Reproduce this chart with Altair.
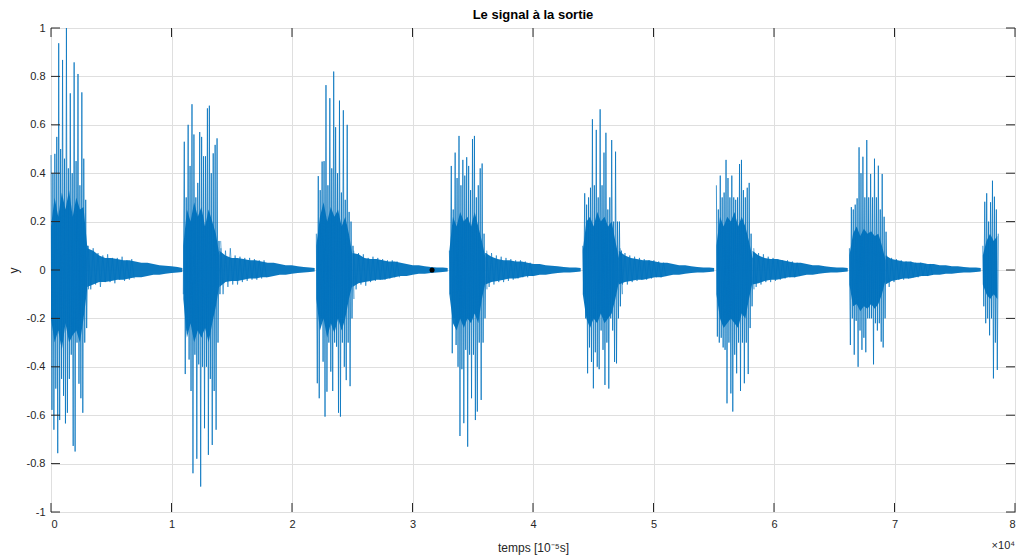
import altair as alt
import pandas as pd

# ---------------- data ----------------
# burst onsets (samples, unit 1e-5 s) and decimation step of the stored values
onsets = [0, 10981, 22020, 33059, 44131, 55220, 66259, 77331]
step = 80

b1 = [0.475, -0.578, 0.40, -0.66, 0.48, -0.49, 0.55, -0.757, 0.937, -0.62, 0.50, -0.45,
      0.868, -0.52, 0.46, -0.634, 1.0, -0.59, 0.42, -0.45, 0.73, -0.35, 0.40, -0.727,
      0.858, -0.75, 0.45, -0.30, 0.81, -0.47, 0.35, -0.53, 0.734, -0.59, 0.46, -0.30,
      0.29, -0.24, 0.10, -0.08]
b2 = [-0.10, 0.53, -0.43, 0.30, -0.25, 0.60, -0.37, 0.43, -0.50, 0.685, -0.84, 0.56,
      -0.35, 0.30, -0.78, 0.36, -0.39, 0.57, -0.895, 0.55, -0.40, 0.47, -0.654, 0.47,
      -0.40, 0.668, -0.764, 0.679, -0.45, 0.40, -0.723, 0.482, -0.50, 0.517, -0.66,
      0.544, -0.30, 0.12, -0.10, 0.09]
b3 = [0.15, -0.468, 0.388, -0.53, 0.33, -0.2, 0.448, -0.379, 0.45, -0.606, 0.764, -0.503,
      0.35, -0.3, 0.71, -0.42, 0.42, -0.50, 0.82, -0.3, 0.59, -0.317, 0.40, -0.59, 0.70,
      -0.606, 0.32, -0.3, 0.66, -0.40, 0.29, -0.455, 0.60, -0.3, 0.24, -0.48, 0.2, -0.2,
      0.1, -0.12]
b4 = [0.08, -0.10, 0.43, -0.344, 0.25, -0.20, 0.485, -0.31, 0.38, -0.40, 0.554, -0.686,
      0.35, -0.41, 0.455, -0.633, 0.39, -0.33, 0.466, -0.73, 0.43, -0.35, 0.33, -0.53,
      0.541, -0.35, 0.554, -0.62, 0.30, -0.585, 0.35, -0.30, 0.42, -0.537, 0.44, -0.30,
      0.15, -0.20, 0.07, -0.08]
b5 = [0.10, -0.10, 0.317, -0.20, 0.27, -0.427, 0.30, -0.32, 0.34, -0.38, 0.623, -0.489,
      0.35, -0.34, 0.579, -0.40, 0.30, -0.41, 0.664, -0.25, 0.35, -0.33, 0.485, -0.475,
      0.567, -0.30, 0.25, -0.49, 0.30, -0.20, 0.537, -0.25, 0.20, -0.38, 0.489, -0.386,
      0.20, -0.20, 0.20, -0.15, 0.08, -0.10]
b6 = [0.35, -0.275, 0.25, -0.30, 0.39, -0.28, 0.30, -0.32, 0.32, -0.33, 0.455, -0.551,
      0.38, -0.30, 0.30, -0.51, 0.39, -0.585, 0.30, -0.35, 0.29, -0.427, 0.30, -0.30,
      0.438, -0.50, 0.455, -0.30, 0.33, -0.468, 0.30, -0.30, 0.34, -0.43, 0.36, -0.24,
      0.15, -0.15, 0.05, -0.08]
b7 = [0.09, -0.31, 0.26, -0.20, 0.25, -0.35, 0.27, -0.21, 0.296, -0.40, 0.507, -0.25,
      0.40, -0.33, 0.468, -0.28, 0.30, -0.34, 0.537, -0.20, 0.30, -0.20, 0.397, -0.20,
      0.30, -0.39, 0.46, -0.22, 0.30, -0.25, 0.431, -0.22, 0.25, -0.296, 0.397, -0.32,
      0.22, -0.20, 0.158, -0.05]
b8 = [0.10, -0.15, 0.282, -0.22, 0.317, -0.20, 0.20, -0.27, 0.28, -0.20, 0.369, -0.448,
      0.303, -0.30, 0.25, -0.413, 0.15]
bursts = [b1, b2, b3, b4, b5, b6, b7, b8]

# dense core of each burst: offsets from onset, upper / lower envelope
core_off = [[0, 300, 600, 900, 1200, 1500, 1800, 2100, 2400, 2700, 3000]] * 7 + \
           [[0, 300, 600, 900, 1200]]
core_hi = [[0.18, 0.30, 0.22, 0.32, 0.25, 0.33, 0.22, 0.30, 0.25, 0.26, 0.10],
           [0.10, 0.25, 0.20, 0.28, 0.22, 0.26, 0.18, 0.25, 0.20, 0.15, 0.06],
           [0.10, 0.22, 0.28, 0.20, 0.26, 0.22, 0.25, 0.18, 0.22, 0.15, 0.06],
           [0.08, 0.22, 0.18, 0.24, 0.20, 0.22, 0.18, 0.24, 0.18, 0.12, 0.05],
           [0.08, 0.20, 0.22, 0.18, 0.24, 0.20, 0.22, 0.18, 0.20, 0.12, 0.05],
           [0.10, 0.22, 0.18, 0.22, 0.20, 0.24, 0.18, 0.22, 0.18, 0.12, 0.05],
           [0.06, 0.15, 0.18, 0.14, 0.17, 0.15, 0.16, 0.14, 0.15, 0.10, 0.04],
           [0.06, 0.12, 0.15, 0.12, 0.14]]
core_lo = [[-0.20, -0.30, -0.25, -0.33, -0.22, -0.30, -0.27, -0.25, -0.30, -0.20, -0.08],
           [-0.12, -0.28, -0.22, -0.30, -0.25, -0.28, -0.24, -0.30, -0.22, -0.15, -0.06],
           [-0.12, -0.25, -0.20, -0.28, -0.22, -0.26, -0.20, -0.25, -0.20, -0.12, -0.06],
           [-0.10, -0.22, -0.25, -0.20, -0.24, -0.20, -0.22, -0.18, -0.22, -0.12, -0.05],
           [-0.10, -0.20, -0.24, -0.20, -0.22, -0.18, -0.22, -0.20, -0.18, -0.12, -0.05],
           [-0.10, -0.20, -0.24, -0.22, -0.20, -0.22, -0.24, -0.18, -0.20, -0.12, -0.05],
           [-0.06, -0.15, -0.14, -0.17, -0.15, -0.16, -0.14, -0.16, -0.14, -0.10, -0.04],
           [-0.06, -0.10, -0.12, -0.10, -0.12]]

# decaying noise band after each burst: offsets from onset, upper / lower envelope
tail_off = [3000, 3500, 4000, 4500, 5000, 5500, 6000, 6500, 7000, 7500, 8000, 8500,
            9000, 9500, 10000, 10500, 10900]
tail_hi = [[0.09, 0.08, 0.06, 0.05, 0.05, 0.045, 0.04, 0.04, 0.035, 0.03, 0.03, 0.025, 0.02, 0.018, 0.015, 0.012, 0.008],
           [0.08, 0.06, 0.05, 0.05, 0.045, 0.04, 0.04, 0.035, 0.03, 0.03, 0.025, 0.02, 0.02, 0.015, 0.012, 0.01, 0.008],
           [0.07, 0.065, 0.05, 0.045, 0.045, 0.04, 0.035, 0.035, 0.03, 0.025, 0.02, 0.02, 0.015, 0.012, 0.01, 0.01, 0.008],
           [0.07, 0.055, 0.045, 0.04, 0.04, 0.035, 0.035, 0.03, 0.025, 0.025, 0.02, 0.018, 0.015, 0.012, 0.01, 0.01, 0.008],
           [0.08, 0.06, 0.05, 0.045, 0.04, 0.04, 0.035, 0.03, 0.03, 0.025, 0.02, 0.02, 0.015, 0.012, 0.01, 0.01, 0.008],
           [0.08, 0.06, 0.05, 0.045, 0.045, 0.04, 0.035, 0.03, 0.03, 0.025, 0.02, 0.02, 0.015, 0.012, 0.01, 0.01, 0.008],
           [0.06, 0.045, 0.04, 0.035, 0.035, 0.03, 0.03, 0.025, 0.025, 0.02, 0.02, 0.015, 0.015, 0.012, 0.01, 0.01, 0.008]]
tail_lo = [[-0.07, -0.06, -0.05, -0.05, -0.045, -0.04, -0.04, -0.035, -0.03, -0.03, -0.025, -0.02, -0.02, -0.015, -0.012, -0.01, -0.008],
           [-0.07, -0.05, -0.045, -0.045, -0.04, -0.035, -0.035, -0.03, -0.03, -0.025, -0.02, -0.02, -0.015, -0.012, -0.01, -0.008, -0.006],
           [-0.07, -0.055, -0.05, -0.045, -0.04, -0.04, -0.035, -0.03, -0.025, -0.025, -0.02, -0.015, -0.015, -0.012, -0.01, -0.008, -0.006],
           [-0.06, -0.05, -0.045, -0.04, -0.035, -0.035, -0.03, -0.025, -0.025, -0.02, -0.02, -0.015, -0.012, -0.01, -0.01, -0.008, -0.006],
           [-0.06, -0.05, -0.045, -0.04, -0.04, -0.035, -0.03, -0.03, -0.025, -0.02, -0.02, -0.015, -0.012, -0.01, -0.01, -0.008, -0.006],
           [-0.06, -0.055, -0.045, -0.04, -0.04, -0.035, -0.03, -0.03, -0.025, -0.02, -0.02, -0.015, -0.012, -0.01, -0.01, -0.008, -0.006],
           [-0.06, -0.045, -0.04, -0.035, -0.035, -0.03, -0.025, -0.025, -0.02, -0.02, -0.015, -0.015, -0.012, -0.01, -0.01, -0.008, -0.006]]

# small spikes riding on the start of each tail (from onset + 3100, every 200 samples)
tspk_start = 3100
tspk_step = 200
tspk = [[0.10, -0.08, 0.09, -0.06, 0.07, -0.07, 0.06, -0.05, 0.065, -0.05, 0.05, -0.055, 0.05, -0.04, 0.055, -0.045, 0.04, -0.04, 0.045, -0.035],
        [0.12, -0.10, 0.08, -0.07, 0.09, -0.06, 0.06, -0.06, 0.055, -0.05, 0.05, -0.045, 0.05, -0.04, 0.045, -0.04, 0.04, -0.035, 0.04, -0.03],
        [0.08, -0.08, 0.07, -0.06, 0.065, -0.065, 0.05, -0.05, 0.055, -0.045, 0.05, -0.04, 0.045, -0.04, 0.04, -0.035, 0.04, -0.03, 0.035, -0.03],
        [0.08, -0.07, 0.07, -0.06, 0.06, -0.05, 0.055, -0.05, 0.05, -0.045, 0.045, -0.04, 0.04, -0.035, 0.04, -0.03, 0.035, -0.03, 0.03, -0.025],
        [0.09, -0.06, 0.07, -0.06, 0.06, -0.05, 0.055, -0.045, 0.05, -0.04, 0.045, -0.04, 0.04, -0.035, 0.04, -0.03, 0.035, -0.03, 0.03, -0.025],
        [0.09, -0.07, 0.07, -0.06, 0.065, -0.05, 0.055, -0.05, 0.05, -0.045, 0.045, -0.04, 0.04, -0.035, 0.04, -0.03, 0.035, -0.03, 0.03, -0.025],
        [0.06, -0.07, 0.05, -0.05, 0.045, -0.04, 0.04, -0.04, 0.035, -0.035, 0.035, -0.03, 0.03, -0.03, 0.03, -0.025, 0.025, -0.025, 0.025, -0.02]]

marker_t = [31623]
marker_v = [0.0]

x_ticks = [0, 10000, 20000, 30000, 40000, 50000, 60000, 70000, 80000]
y_ticks = [-1, -0.8, -0.6, -0.4, -0.2, 0, 0.2, 0.4, 0.6, 0.8, 1]

# ---------------- tables ----------------
sig_rows = []
for i, (t0, vals) in enumerate(zip(onsets, bursts)):
    for k, v in enumerate(vals):
        sig_rows.append({"t": t0 + k * step, "v": v, "b": i})
sig = pd.DataFrame(sig_rows)

core_rows = []
for i, t0 in enumerate(onsets):
    for o, hi, lo in zip(core_off[i], core_hi[i], core_lo[i]):
        core_rows.append({"t": t0 + o, "v": hi, "v2": lo, "b": i})
core = pd.DataFrame(core_rows)

tail_rows = []
for i in range(len(tail_hi)):
    for o, hi, lo in zip(tail_off, tail_hi[i], tail_lo[i]):
        tail_rows.append({"t": onsets[i] + o, "v": hi, "v2": lo, "b": i})
tail = pd.DataFrame(tail_rows)

tspk_rows = []
for i, vals in enumerate(tspk):
    for k, v in enumerate(vals):
        tspk_rows.append({"t": onsets[i] + tspk_start + k * tspk_step, "v": v, "b": i})
tspk_df = pd.DataFrame(tspk_rows)

mk = pd.DataFrame({"t": marker_t, "v": marker_v})
xt = pd.DataFrame({"t": x_ticks})
yt = pd.DataFrame({"v": y_ticks})

W, H = 964, 484
BLUE = "#0072BD"
AX = "#262626"
FONT = "Liberation Sans"

X = alt.X("t:Q", scale=alt.Scale(domain=[0, 80000], nice=False, zero=False),
          axis=alt.Axis(values=x_ticks, labelExpr="'' + (datum.value / 10000)",
                        title="temps [10⁻⁵s]", titleY=35, titleBaseline="middle",
                        grid=True))
Y = alt.Y("v:Q", scale=alt.Scale(domain=[-1, 1], nice=False),
          axis=alt.Axis(values=y_ticks, labelExpr="'' + datum.value",
                        title="y", titleX=-38, titleY=H / 2, titleAngle=270,
                        titleAlign="center", titleBaseline="middle", grid=True))

core_layer = alt.Chart(core).mark_area(color=BLUE, opacity=0.95).encode(
    x=X, y=Y, y2="v2:Q", detail="b:N")
tail_layer = alt.Chart(tail).mark_area(color=BLUE, opacity=0.95).encode(
    x=X, y=Y, y2="v2:Q", detail="b:N")
tspk_layer = alt.Chart(tspk_df).mark_line(color=BLUE, strokeWidth=0.6).encode(
    x=X, y=Y, detail="b:N", order="t:Q")
sig_layer = alt.Chart(sig).mark_line(color=BLUE, strokeWidth=0.75).encode(
    x=X, y=Y, detail="b:N", order="t:Q")
mk_layer = alt.Chart(mk).mark_point(filled=True, shape="circle", color="black",
                                    size=26, opacity=1).encode(x=X, y=Y)

tick_style = dict(color=AX, strokeWidth=1)
xt_bot = alt.Chart(xt).mark_rule(**tick_style).encode(x=X, y=alt.value(H), y2=alt.value(H - 9))
xt_top = alt.Chart(xt).mark_rule(**tick_style).encode(x=X, y=alt.value(0), y2=alt.value(9))
yt_left = alt.Chart(yt).mark_rule(**tick_style).encode(y=Y, x=alt.value(0), x2=alt.value(9))
yt_right = alt.Chart(yt).mark_rule(**tick_style).encode(y=Y, x=alt.value(W), x2=alt.value(W - 9))

mult = alt.Chart(pd.DataFrame({"s": ["×10⁴"]})).mark_text(
    font=FONT, fontSize=11, color=AX, align="right", baseline="middle").encode(
    text="s:N", x=alt.value(W), y=alt.value(H + 34))

chart = alt.layer(
    core_layer, tail_layer, tspk_layer, sig_layer, mk_layer,
    xt_bot, xt_top, yt_left, yt_right, mult
).properties(
    width=W, height=H,
    autosize=alt.AutoSizeParams(type="none"),
    padding={"left": 51, "top": 28, "right": 6, "bottom": 47},
    title=alt.TitleParams("Le signal à la sortie", font=FONT, fontSize=13,
                          fontWeight="bold", color="black", offset=0, anchor="middle"),
).configure_view(
    stroke=AX, strokeWidth=1
).configure_axis(
    labelFont=FONT, labelFontSize=11, labelColor=AX, labelPadding=6,
    titleFont=FONT, titleFontSize=12, titleColor=AX, titleFontWeight="normal",
    ticks=False, domain=False, gridColor="#dfdfdf", gridWidth=1
)

chart.save("out.html", embed_options={"renderer": "svg", "actions": False})
